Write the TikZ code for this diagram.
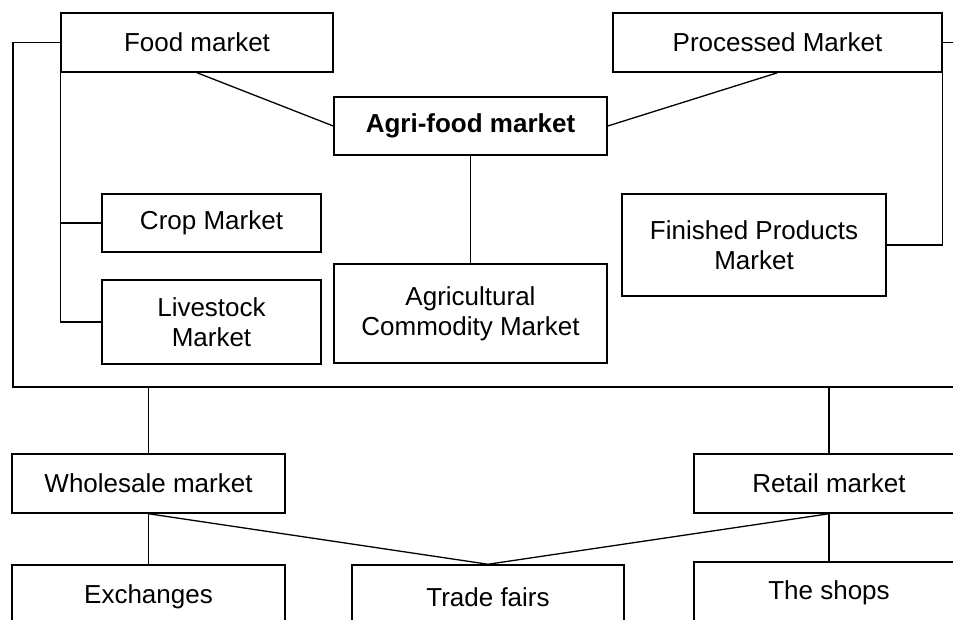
\documentclass[tikz,border=0pt]{standalone}
\usepackage{fontspec}
\setmainfont{Liberation Sans}
\tikzset{
  mkt/.style={draw, line width=1.5pt, rectangle, inner sep=0pt, align=center,
    font=\fontsize{26}{30}\selectfont},
  link/.style={draw, line width=1.3pt},
}

\begin{document}
\begin{tikzpicture}[x=1pt, y=-1pt]
    \clip (0,0) rectangle (953,620);
    \useasboundingbox (0,0) rectangle (953,620);

    \node at (197, 42.5) (food) [mkt, minimum width=272, minimum height=59] {Food market};
    \node at (777.5, 42.5) (proc) [mkt, minimum width=329, minimum height=59] {Processed Market};
    \node at (470.5, 126) (agri) [mkt, minimum width=273, minimum height=58, font=\fontsize{26}{30}\selectfont\bfseries] {Agri-food market};
    \node at (211.5, 223) (crop) [mkt, minimum width=219, minimum height=58] {Crop Market};
    \node at (211.5, 322) (live) [mkt, minimum width=219, minimum height=84] {Livestock\\Market};
    \node at (470.5, 313.5) (comm) [mkt, minimum width=273, minimum height=99] {Agricultural\\Commodity Market};
    \node at (754, 245) (fin) [mkt, minimum width=264, minimum height=102] {Finished Products\\Market};
    \node at (148.5, 483.5) (whole) [mkt, minimum width=273, minimum height=59] {Wholesale market};
    \node at (829, 483.5) (retail) [mkt, minimum width=270, minimum height=59] {Retail market};
    \node at (148.5, 597) (exch) [mkt, minimum width=273, minimum height=64] {Exchanges};
    \node at (488, 597) (trade) [mkt, minimum width=272, minimum height=64] {Trade fairs};
    \node at (829, 593) (shops) [mkt, minimum width=270, minimum height=62] {The shops};

    \coordinate (busL) at (13, 387);
    \coordinate (busR) at (953, 387);
    \coordinate (procR) at (953, 42.5);

    % upper part
    \path[link] (food.west) -| (busL) -- (busR);
    \path[link] (food.south west) |- (live.west);
    \path[link] (food.south west |- crop.west) -- (crop.west);
    \path[link] (food.south) -- (agri.west);
    \path[link] (proc.south) -- (agri.east);
    \path[link] (agri.south) -- (comm.north);
    \path[link] (proc.east) -- (procR);
    \path[link] (proc.south east) |- (fin.east);

    % lower part
    \path[link] (whole.north |- busL) -- (whole.north);
    \path[link] (retail.north |- busL) -- (retail.north);
    \path[link] (whole.south) -- (exch.north);
    \path[link] (whole.south) -- (trade.north);
    \path[link] (retail.south) -- (trade.north);
    \path[link] (retail.south) -- (shops.north);
\end{tikzpicture}
\end{document}
